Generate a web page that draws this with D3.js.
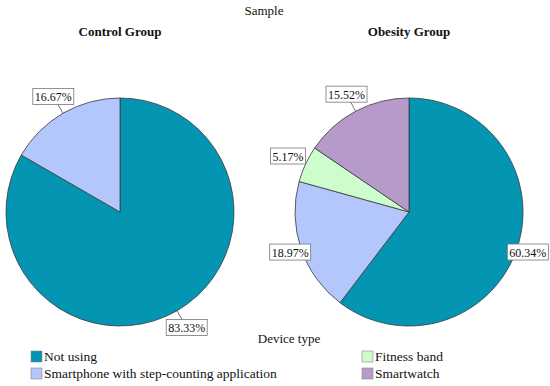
<!DOCTYPE html>
<html><head><meta charset="utf-8">
<script src="https://cdn.jsdelivr.net/npm/d3@7"></script>
<style>
body{margin:0;background:#fff;}
</style></head>
<body><svg id="c" width="550" height="386" style="font-family:'Liberation Serif','Times New Roman',serif"></svg>
<script>
const categories = ["Not using","Smartphone with step-counting application","Fitness band","Smartwatch"];
const colors = ["#0395b1","#b4c7fd","#cdfdcd","#b69bca"];
const groups = ["Control Group","Obesity Group"];
const controlValues = [83.33, 16.67, 0, 0];
const obesityValues = [60.34, 18.97, 5.17, 15.52];
const title = "Sample";
const legendTitle = "Device type";

const FONT = "'Liberation Serif','Times New Roman',serif";
const svg = d3.select("#c");
const W = 550, H = 386;
const R = 114;
const centers = [{x:120,y:212},{x:409,y:212}];
const seriesList = [controlValues, obesityValues];

function txt(sel){ return sel.attr("font-family",FONT).attr("fill","#111"); }

txt(svg.append("text")).attr("x",264).attr("y",15).attr("text-anchor","middle")
  .attr("font-size",13).text(title);

const pie = d3.pie().sort(null).value(d=>d.v);
const arc = d3.arc().innerRadius(0).outerRadius(R);

seriesList.forEach((vals,gi)=>{
  const c = centers[gi];
  txt(svg.append("text")).attr("x",c.x).attr("y",36).attr("text-anchor","middle")
    .attr("font-size",13).attr("font-weight","bold").text(groups[gi]);
  const g = svg.append("g").attr("transform",`translate(${c.x},${c.y})`);
  const data = pie(vals.map((v,i)=>({v,i})));
  g.selectAll("path").data(data.filter(d=>d.data.v>0)).join("path")
    .attr("d",arc).attr("fill",d=>colors[d.data.i])
    .attr("stroke","#3a3a3a").attr("stroke-width",0.8);
  data.filter(d=>d.data.v>0).forEach(d=>{
    const lg = g.append("g");
    const a = (d.startAngle+d.endAngle)/2;
    const ux = Math.sin(a), uy = -Math.cos(a);
    const f = Math.abs(ux) > 0.93 ? 1.1 : 1.17;
    let cx = ux*R*f, cy = uy*R*f;
    const label = d.data.v.toFixed(2)+"%";
    const t = txt(lg.append("text")).attr("text-anchor","middle").attr("dominant-baseline","central")
      .attr("font-size",12).text(label);
    const bb = t.node().getBBox();
    const w = bb.width+4, h = 16;
    const maxX = W - c.x - w/2 - 1;
    if (cx > maxX) cx = maxX;
    const ex = ux*R, ey = uy*R;
    lg.insert("line","text").attr("x1",ex).attr("y1",ey).attr("x2",cx).attr("y2",cy)
      .attr("stroke","#555").attr("stroke-width",0.8);
    lg.insert("rect","text").attr("x",cx-w/2).attr("y",cy-h/2).attr("width",w).attr("height",h)
      .attr("fill","#fff").attr("stroke","#777").attr("stroke-width",0.8);
    t.attr("x",cx).attr("y",cy+0.5);
  });
});

txt(svg.append("text")).attr("x",289).attr("y",343).attr("text-anchor","middle")
  .attr("font-size",13).text(legendTitle);

const legPos = [{x:31,y:351},{x:31,y:368},{x:362,y:351},{x:362,y:368}];
categories.forEach((cat,i)=>{
  const p = legPos[i];
  svg.append("rect").attr("x",p.x).attr("y",p.y).attr("width",11).attr("height",11)
    .attr("fill",colors[i]).attr("stroke","#888").attr("stroke-width",0.6);
  txt(svg.append("text")).attr("x",p.x+13).attr("y",p.y+10).attr("font-size",13.5).text(cat);
});
</script></body></html>
